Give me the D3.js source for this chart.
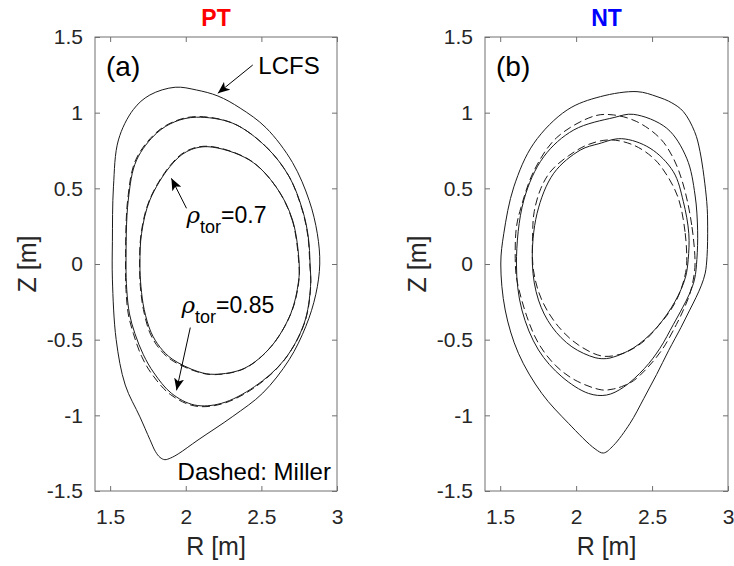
<!DOCTYPE html>
<html>
<head>
<meta charset="utf-8">
<script src="https://cdn.jsdelivr.net/npm/d3@7"></script>
<style>
  body { margin: 0; background: #fff; }
  svg { display: block; font-family: "Liberation Sans", Arial, Helvetica, sans-serif; }
</style>
</head>
<body>
<svg id="chart" width="734" height="566"></svg>
<script>
const rTicks = [1.5, 2, 2.5, 3];
const zTicks = [-1.5, -1, -0.5, 0, 0.5, 1, 1.5];
const rDomain = [1.4, 3];
const zDomain = [-1.5, 1.5];
const panelTitles = ["PT", "NT"];
const panelTags = ["(a)", "(b)"];

// PT flux surfaces, [R, Z] in m
const ptLcfs = [
  [2.886, 0.00], [2.870, 0.20], [2.816, 0.42], [2.706, 0.67], [2.531, 0.90], [2.360, 1.03],
  [2.213, 1.110], [2.070, 1.150], [1.930, 1.168], [1.763, 1.117], [1.653, 1.02], [1.555, 0.82],
  [1.522, 0.51], [1.515, 0.15], [1.515, -0.10], [1.540, -0.50], [1.600, -0.80], [1.697, -1.01],
  [1.763, -1.16], [1.800, -1.24], [1.830, -1.278], [1.862, -1.293], [1.900, -1.282], [1.950, -1.255],
  [2.081, -1.163], [2.311, -1.007], [2.509, -0.853], [2.684, -0.632], [2.794, -0.412], [2.860, -0.20]
];
const ptRho85 = [
  [2.822, 0.00], [2.810, 0.18], [2.772, 0.357], [2.684, 0.577], [2.530, 0.775], [2.311, 0.93],
  [2.070, 0.97], [1.928, 0.94], [1.807, 0.864], [1.675, 0.687], [1.620, 0.423], [1.605, 0.00],
  [1.610, -0.17], [1.628, -0.33], [1.664, -0.46], [1.720, -0.60], [1.790, -0.72], [1.906, -0.855],
  [2.059, -0.932], [2.235, -0.921], [2.454, -0.811], [2.651, -0.634], [2.783, -0.392], [2.825, -0.15]
];
const ptRho85Miller = [
  [2.820, 0.00], [2.808, 0.18], [2.770, 0.357], [2.682, 0.580], [2.528, 0.778], [2.308, 0.932],
  [2.068, 0.974], [1.924, 0.942], [1.802, 0.866], [1.670, 0.690], [1.616, 0.423], [1.602, 0.00],
  [1.605, -0.17], [1.620, -0.33], [1.654, -0.46], [1.708, -0.61], [1.778, -0.73], [1.898, -0.862],
  [2.059, -0.938], [2.240, -0.924], [2.458, -0.814], [2.655, -0.630], [2.786, -0.388], [2.826, -0.15]
];
const ptRho70 = [
  [2.750, 0.00], [2.706, 0.29], [2.597, 0.51], [2.421, 0.687], [2.147, 0.775], [2.005, 0.742],
  [1.895, 0.643], [1.763, 0.423], [1.708, 0.203], [1.697, 0.00], [1.704, -0.15], [1.725, -0.30],
  [1.770, -0.45], [1.830, -0.55], [1.910, -0.628], [2.081, -0.711], [2.191, -0.729], [2.388, -0.689],
  [2.564, -0.546], [2.695, -0.326], [2.745, -0.12]
];
const ptRho70Miller = [
  [2.748, 0.00], [2.704, 0.29], [2.595, 0.512], [2.419, 0.690], [2.145, 0.778], [2.002, 0.745],
  [1.892, 0.645], [1.760, 0.423], [1.705, 0.203], [1.695, 0.00], [1.700, -0.15], [1.720, -0.30],
  [1.763, -0.455], [1.823, -0.556], [1.905, -0.634], [2.081, -0.714], [2.193, -0.731], [2.390, -0.690],
  [2.566, -0.544], [2.697, -0.324], [2.747, -0.12]
];

// NT flux surfaces, [R, Z] in m
const ntLcfs = [
  [2.862, 0.05], [2.866, 0.25], [2.860, 0.412], [2.816, 0.742], [2.780, 0.875], [2.706, 1.007],
  [2.630, 1.065], [2.533, 1.106], [2.401, 1.139], [2.160, 1.106], [1.941, 1.018], [1.722, 0.798],
  [1.590, 0.51], [1.524, 0.203], [1.504, 0.00], [1.533, -0.304], [1.620, -0.59], [1.774, -0.855],
  [1.950, -1.053], [2.125, -1.222], [2.180, -1.249], [2.245, -1.200], [2.355, -1.053], [2.445, -0.89],
  [2.530, -0.73], [2.610, -0.57], [2.690, -0.42], [2.745, -0.31], [2.790, -0.22], [2.825, -0.14],
  [2.850, -0.06]
];
const ntRho85 = [
  [2.795, 0.03], [2.800, 0.22], [2.783, 0.456], [2.728, 0.699], [2.597, 0.897], [2.377, 0.989],
  [2.250, 0.968], [1.985, 0.886], [1.787, 0.709], [1.656, 0.423], [1.607, 0.00], [1.643, -0.304],
  [1.752, -0.568], [1.906, -0.745], [2.081, -0.855], [2.200, -0.866], [2.311, -0.815], [2.450, -0.69],
  [2.550, -0.56], [2.640, -0.40], [2.700, -0.29], [2.745, -0.20], [2.780, -0.10]
];
const ntRho85Miller = [
  [2.783, 0.00], [2.761, 0.258], [2.706, 0.522], [2.640, 0.699], [2.553, 0.83], [2.399, 0.941],
  [2.245, 0.985], [2.120, 0.978], [1.872, 0.835], [1.722, 0.615], [1.636, 0.370], [1.606, 0.236],
  [1.600, 0.00], [1.610, -0.106], [1.676, -0.348], [1.752, -0.524], [1.862, -0.668], [1.993, -0.767],
  [2.169, -0.832], [2.245, -0.826], [2.300, -0.810], [2.377, -0.772], [2.470, -0.685], [2.570, -0.56],
  [2.660, -0.40], [2.708, -0.30], [2.748, -0.20], [2.772, -0.10]
];
const ntRho70 = [
  [2.738, 0.03], [2.742, 0.20], [2.706, 0.412], [2.640, 0.61], [2.487, 0.765], [2.300, 0.828],
  [2.150, 0.795], [2.028, 0.753], [1.853, 0.60], [1.743, 0.335], [1.712, 0.00], [1.752, -0.238],
  [1.840, -0.414], [1.972, -0.547], [2.125, -0.619], [2.200, -0.625], [2.245, -0.615], [2.300, -0.595],
  [2.377, -0.555], [2.450, -0.50], [2.531, -0.42], [2.600, -0.33], [2.650, -0.25], [2.690, -0.17],
  [2.722, -0.08]
];
const ntRho70Miller = [
  [2.728, 0.00], [2.717, 0.213], [2.673, 0.434], [2.597, 0.588], [2.509, 0.699], [2.377, 0.786],
  [2.224, 0.82], [2.081, 0.79], [1.950, 0.715], [1.835, 0.615], [1.768, 0.50], [1.724, 0.346],
  [1.714, 0.213], [1.719, -0.04], [1.774, -0.238], [1.884, -0.414], [2.015, -0.535], [2.169, -0.608],
  [2.289, -0.597], [2.377, -0.558], [2.460, -0.498], [2.540, -0.41], [2.605, -0.33], [2.655, -0.25],
  [2.690, -0.17], [2.716, -0.08]
];

const svg = d3.select("#chart");
svg.append("rect").attr("width", 734).attr("height", 566).attr("fill", "#fff");

// arrow head for annotations
svg.append("defs").append("marker")
  .attr("id", "head")
  .attr("viewBox", "0 0 12 10")
  .attr("refX", 12).attr("refY", 5)
  .attr("markerWidth", 12).attr("markerHeight", 10)
  .attr("markerUnits", "userSpaceOnUse")
  .attr("orient", "auto")
  .append("path")
  .attr("d", "M0,0 L12,5 L0,10 L3,5 Z")
  .attr("fill", "#000");

const panels = [
  { left: 95, right: 337, color: "#ff0000", solid: [ptLcfs, ptRho85, ptRho70], dashed: [ptRho85Miller, ptRho70Miller] },
  { left: 485, right: 728, color: "#0000ff", solid: [ntLcfs, ntRho85, ntRho70], dashed: [ntRho85Miller, ntRho70Miller] }
];
const plotTop = 37, plotBottom = 491;
const axisColor = "#707070", textColor = "#262626";

const line = d3.line().curve(d3.curveCatmullRomClosed.alpha(0.5));

panels.forEach((p, i) => {
  const x = d3.scaleLinear().domain(rDomain).range([p.left, p.right]);
  const y = d3.scaleLinear().domain(zDomain).range([plotBottom, plotTop]);
  const g = svg.append("g");
  line.x(d => x(d[0])).y(d => y(d[1]));

  // axes, MATLAB style: ticks inside on all four sides
  const fmt = d => String(d);
  const styleAxis = sel => {
    sel.select(".domain").remove();
    sel.selectAll(".tick line").attr("stroke", axisColor);
    sel.selectAll(".tick text").attr("fill", textColor).attr("font-size", "21px");
    sel.attr("font-family", null).attr("font-size", null);
  };
  g.append("g").attr("transform", `translate(0,${plotBottom})`)
    .call(d3.axisBottom(x).tickValues(rTicks).tickFormat(fmt).tickSizeInner(-5).tickSizeOuter(0).tickPadding(18))
    .call(styleAxis);
  g.append("g").attr("transform", `translate(0,${plotTop})`)
    .call(d3.axisTop(x).tickValues(rTicks).tickFormat("").tickSizeInner(-5).tickSizeOuter(0))
    .call(styleAxis);
  g.append("g").attr("transform", `translate(${p.left},0)`)
    .call(d3.axisLeft(y).tickValues(zTicks).tickFormat(fmt).tickSizeInner(-5).tickSizeOuter(0).tickPadding(12))
    .call(styleAxis);
  g.append("g").attr("transform", `translate(${p.right},0)`)
    .call(d3.axisRight(y).tickValues(zTicks).tickFormat("").tickSizeInner(-5).tickSizeOuter(0))
    .call(styleAxis);
  g.append("rect")
    .attr("x", p.left).attr("y", plotTop)
    .attr("width", p.right - p.left).attr("height", plotBottom - plotTop)
    .attr("fill", "none").attr("stroke", axisColor).attr("stroke-width", 1);

  // flux surfaces
  g.selectAll("path.solid").data(p.solid).enter().append("path")
    .attr("class", "solid")
    .attr("d", d => line(d))
    .attr("fill", "none").attr("stroke", "#1a1a1a").attr("stroke-width", 1);
  g.selectAll("path.dashed").data(p.dashed).enter().append("path")
    .attr("class", "dashed")
    .attr("d", d => line(d))
    .attr("fill", "none").attr("stroke", "#1a1a1a").attr("stroke-width", 1)
    .attr("stroke-dasharray", "8,4");

  // titles and labels
  const cx = (p.left + p.right) / 2;
  svg.append("text").attr("x", cx).attr("y", 26)
    .attr("text-anchor", "middle").attr("font-size", "23px").attr("font-weight", "bold")
    .attr("fill", p.color).text(panelTitles[i]);
  svg.append("text").attr("x", cx).attr("y", 555)
    .attr("text-anchor", "middle").attr("font-size", "25px").attr("fill", textColor).text("R [m]");
  svg.append("text")
    .attr("transform", `translate(${p.left - 59},${(plotTop + plotBottom) / 2}) rotate(-90)`)
    .attr("text-anchor", "middle").attr("font-size", "25px").attr("fill", textColor).text("Z [m]");
  svg.append("text").attr("x", p.left + 11).attr("y", 76)
    .attr("font-size", "28px").attr("fill", "#000").text(panelTags[i]);

  if (i === 0) {
    const arrow = (r0, z0, r1, z1) => g.append("line")
      .attr("x1", x(r0)).attr("y1", y(z0)).attr("x2", x(r1)).attr("y2", y(z1))
      .attr("stroke", "#000").attr("stroke-width", 1).attr("marker-end", "url(#head)");
    arrow(2.443, 1.315, 2.212, 1.128);
    arrow(2.005, 0.368, 1.905, 0.566);
    arrow(2.030, -0.420, 1.939, -0.835);

    g.append("text").attr("x", x(2.48)).attr("y", y(1.256))
      .attr("font-size", "24px").attr("fill", "#000").text("LCFS");

    const rho = (r, z, val) => {
      const t = g.append("text").attr("x", x(r)).attr("y", y(z))
        .attr("font-size", "23px").attr("fill", "#000");
      t.append("tspan").attr("font-style", "italic").attr("font-family", "'DejaVu Serif', serif").text("ρ");
      t.append("tspan").attr("font-size", "18px").attr("dy", 10).text("tor");
      t.append("tspan").attr("dy", -10).text("=" + val);
    };
    rho(2.005, 0.271, "0.7");
    rho(1.972, -0.324, "0.85");

    g.append("text").attr("x", x(2.96)).attr("y", y(-1.428))
      .attr("text-anchor", "end").attr("font-size", "24px").attr("fill", "#000").text("Dashed: Miller");
  }
});
</script>
</body>
</html>
